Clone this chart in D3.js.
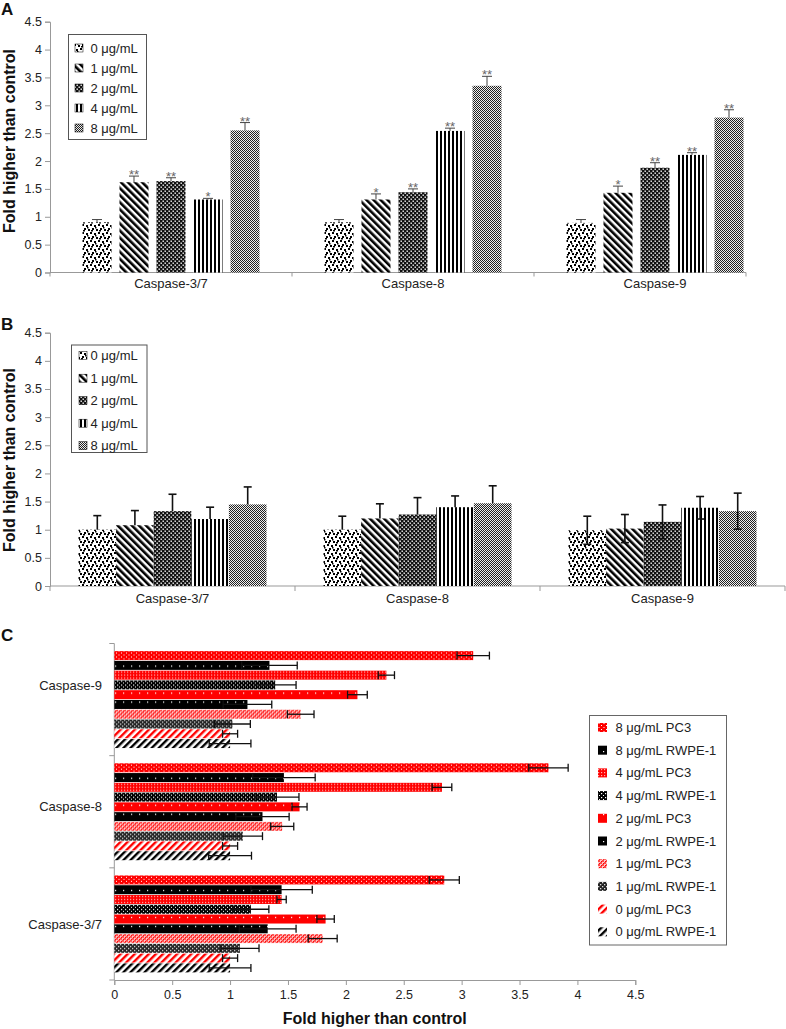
<!DOCTYPE html>
<html><head><meta charset="utf-8">
<script src="https://cdn.jsdelivr.net/npm/d3@7"></script>
<style>
body{margin:0;background:#fff}
text{font-family:Arial,"Liberation Sans",sans-serif}
</style>
</head><body>
<svg id="chart" width="786" height="1029"></svg>
<script>
// ---------- DATA ----------
const categories = ["Caspase-3/7", "Caspase-8", "Caspase-9"];
const doses = ["0 μg/mL", "1 μg/mL", "2 μg/mL", "4 μg/mL", "8 μg/mL"];
const yTicks = [0, 0.5, 1, 1.5, 2, 2.5, 3, 3.5, 4, 4.5];

// Panel A (per category, per dose)
const aValues = [
  [0.90, 1.62, 1.64, 1.31, 2.55],
  [0.90, 1.31, 1.44, 2.54, 3.35],
  [0.89, 1.43, 1.88, 2.11, 2.78]
];
const aErrors = [
  [0.05, 0.11, 0.06, 0.02, 0.14],
  [0.05, 0.10, 0.06, 0.05, 0.17],
  [0.06, 0.12, 0.09, 0.04, 0.14]
];
const aStars = [
  ["", "**", "**", "*", "**"],
  ["", "*", "**", "**", "**"],
  ["", "*", "**", "**", "**"]
];

// Panel B
const bValues = [
  [1.00, 1.08, 1.33, 1.19, 1.45],
  [1.00, 1.20, 1.27, 1.40, 1.47],
  [0.99, 1.02, 1.14, 1.39, 1.33]
];
const bErrors = [
  [0.25, 0.26, 0.30, 0.21, 0.31],
  [0.24, 0.26, 0.30, 0.20, 0.31],
  [0.25, 0.25, 0.30, 0.20, 0.32]
];
const bErrorBothSides = [false, false, true];

// Panel C (categories listed top to bottom, series top to bottom)
const cCategories = ["Caspase-9", "Caspase-8", "Caspase-3/7"];
const cSeries = ["8 μg/mL PC3", "8 μg/mL RWPE-1", "4 μg/mL PC3", "4 μg/mL RWPE-1",
  "2 μg/mL PC3", "2 μg/mL RWPE-1", "1 μg/mL PC3", "1 μg/mL RWPE-1",
  "0 μg/mL PC3", "0 μg/mL RWPE-1"];
const cValues = [
  [3.10, 1.34, 2.35, 1.39, 2.10, 1.15, 1.61, 1.02, 1.00, 1.00],
  [3.75, 1.465, 2.83, 1.405, 1.60, 1.28, 1.45, 1.11, 1.00, 1.00],
  [2.85, 1.445, 1.445, 1.18, 1.825, 1.325, 1.80, 1.085, 1.00, 1.00]
];
const cErrors = [
  [0.14, 0.24, 0.07, 0.18, 0.085, 0.21, 0.115, 0.155, 0.065, 0.18],
  [0.17, 0.27, 0.085, 0.19, 0.065, 0.23, 0.10, 0.17, 0.065, 0.185],
  [0.13, 0.265, 0.04, 0.155, 0.075, 0.245, 0.125, 0.165, 0.065, 0.18]
];

// ---------- SETUP ----------
const svg = d3.select("#chart");
svg.append("rect").attr("width", 786).attr("height", 1029).attr("fill", "#fff");
const defs = svg.append("defs");
const AX = "#999", TXT = "#222";

function addPattern(id, w, h, bg, rects, rot) {
  const p = defs.append("pattern").attr("id", id)
    .attr("patternUnits", "userSpaceOnUse").attr("width", w).attr("height", h);
  if (rot) p.attr("patternTransform", `rotate(${rot})`);
  p.append("rect").attr("width", w).attr("height", h).attr("fill", bg);
  rects.forEach(r => p.append("rect").attr("x", r[0]).attr("y", r[1])
    .attr("width", r[2]).attr("height", r[3]).attr("fill", r[4]));
}
// grayscale patterns (A, B)
addPattern("g0", 8, 8, "#fff", [[0,0,2,2,"#000"],[4,1,2,2,"#000"],[2,4,2,2,"#000"],[6,5,2,2,"#000"],[1,6,2,1.5,"#000"],[5,3,1.5,1.5,"#000"]]);
addPattern("g1", 5, 5, "#fff", [[0,0,2.6,5,"#000"]], -45);
addPattern("g2", 4, 4, "#111", [[0.5,0.5,1.4,1.4,"#fff"],[2.5,2.5,1.4,1.4,"#fff"]]);
addPattern("g3", 4, 4, "#fff", [[0,0,2,4,"#000"]]);
addPattern("g4", 2, 2, "#eee", [[0,0,1,1,"#222"],[1,1,1,1,"#222"]]);
const gPatterns = ["g0", "g1", "g2", "g3", "g4"];

// colour patterns (C)
const RED = "#f00";
addPattern("c0", 5, 4, RED, [[1,1,1,1,"#fff"],[3.5,3,1,1,"#fff"]]);
addPattern("c1", 8, 9, "#000", [[3,4,1.2,1.2,"#fff"]]);
addPattern("c2", 3, 3, RED, [[1,1,1.2,1.2,"#ffb0b0"]]);
addPattern("c3", 4, 4, "#000", [[1,1,1.2,1.2,"#fff"],[3,3,1,1,"#fff"]]);
addPattern("c4", 8, 9, RED, [[3,4,1.2,1.2,"#fff"]]);
addPattern("c5", 8, 9, "#000", [[3,4,1.2,1.2,"#fff"]]);
addPattern("c6", 4, 4, "#ff4a4a", [[0,0,2,2,"#ffc8c8"],[2,2,2,2,"#ffc8c8"],[1,1,1,1,RED],[3,3,1,1,RED]]);
addPattern("c7", 4, 4, "#222", [[0,0,1.3,1.3,"#ddd"],[2,2,1.3,1.3,"#ddd"]]);
addPattern("c8", 5, 5, "#fff", [[0,0,2.4,5,RED]], 45);
addPattern("c9", 5, 5, "#fff", [[0,0,2.4,5,"#000"]], 45);
const cPatterns = ["c0","c1","c2","c3","c4","c5","c6","c7","c8","c9"];

function yAxis(g, scale) {
  g.call(d3.axisLeft(scale).tickValues(yTicks).tickFormat(d => String(d)).tickSize(5).tickPadding(3));
  g.selectAll("path,line").attr("stroke", AX);
  g.selectAll("text").attr("fill", TXT).style("font-size", "12.5px").style("font-family", "Arial");
}
function panelLabel(t, x, y) {
  svg.append("text").attr("x", x).attr("y", y).text(t)
    .attr("font-weight", "bold").attr("font-size", 17).attr("fill", "#111");
}
function yTitle(cx, cy) {
  svg.append("text").attr("transform", `translate(${cx},${cy}) rotate(-90)`)
    .attr("text-anchor", "middle").attr("font-weight", "bold").attr("font-size", 16)
    .attr("fill", "#111").text("Fold higher than control");
}

// ---------- PANEL A ----------
{
  const x0 = d3.scaleBand().domain(categories).range([50, 776]);
  const x1 = d3.scaleBand().domain(doses).range([0, x0.bandwidth()]).paddingInner(0.216).paddingOuter(0.878);
  const y = d3.scaleLinear().domain([0, 4.5]).range([272.5, 21.7]);
  panelLabel("A", 1, 15);
  yAxis(svg.append("g").attr("transform", "translate(50,0)"), y);
  yTitle(14.5, 141);
  // x axis
  const xa = svg.append("g");
  xa.append("line").attr("x1", 50).attr("x2", 746).attr("y1", y(0)).attr("y2", y(0)).attr("stroke", AX);
  [x0(categories[0]), x0(categories[1]), x0(categories[2]), 746].forEach(v =>
    xa.append("line").attr("x1", v).attr("x2", v).attr("y1", y(0)).attr("y2", y(0) + 4).attr("stroke", AX));
  categories.forEach(c => xa.append("text").attr("x", x0(c) + x0.bandwidth() / 2).attr("y", 287.5)
    .attr("text-anchor", "middle").attr("font-size", 13).attr("fill", TXT).text(c));

  categories.forEach((c, ci) => {
    const g = svg.append("g").attr("transform", `translate(${x0(c)},0)`);
    doses.forEach((d, di) => {
      const v = aValues[ci][di], e = aErrors[ci][di];
      const xb = x1(d), w = x1.bandwidth(), xc = xb + w / 2;
      g.append("rect").attr("x", xb).attr("y", y(v)).attr("width", w).attr("height", y(0) - y(v))
        .attr("fill", `url(#${gPatterns[di]})`);
      g.append("line").attr("x1", xc).attr("x2", xc).attr("y1", y(v)).attr("y2", y(v + e)).attr("stroke", "#444").attr("stroke-width", 1);
      g.append("line").attr("x1", xc - 5).attr("x2", xc + 5).attr("y1", y(v + e)).attr("y2", y(v + e)).attr("stroke", "#444").attr("stroke-width", 1);
      if (aStars[ci][di]) g.append("text").attr("x", xc).attr("y", y(v + e) + 3).attr("text-anchor", "middle")
        .attr("font-family", "Liberation Serif, serif").attr("font-size", 13).attr("fill", "#666").text(aStars[ci][di]);
    });
  });
  // legend
  const lg = svg.append("g");
  lg.append("rect").attr("x", 68.5).attr("y", 34.5).attr("width", 78).attr("height", 105)
    .attr("fill", "#fff").attr("stroke", "#555");
  doses.forEach((d, i) => {
    const cy = 48 + i * 20;
    lg.append("rect").attr("x", 75).attr("y", cy - 4).attr("width", 8).attr("height", 8)
      .attr("fill", `url(#${gPatterns[i]})`).attr("stroke", "#000").attr("stroke-width", 0.5);
    lg.append("text").attr("x", 90.5).attr("y", cy + 4.5).attr("font-size", 13).attr("fill", TXT).text(d);
  });
}

// ---------- PANEL B ----------
{
  const x0 = d3.scaleBand().domain(categories).range([50, 785]);
  const x1 = d3.scaleBand().domain(doses).range([0, x0.bandwidth()]).paddingInner(0).paddingOuter(0.758);
  const y = d3.scaleLinear().domain([0, 4.5]).range([586, 332.7]);
  panelLabel("B", 1, 330);
  yAxis(svg.append("g").attr("transform", "translate(50,0)"), y);
  yTitle(14.5, 460);
  const xa = svg.append("g");
  xa.append("line").attr("x1", 50).attr("x2", 785).attr("y1", y(0)).attr("y2", y(0)).attr("stroke", AX);
  categories.concat(["end"]).forEach((c, i) => {
    const v = i < 3 ? x0(c) : 785;
    xa.append("line").attr("x1", v).attr("x2", v).attr("y1", y(0)).attr("y2", y(0) + 5).attr("stroke", AX);
  });
  categories.forEach(c => xa.append("text").attr("x", x0(c) + x0.bandwidth() / 2).attr("y", 603)
    .attr("text-anchor", "middle").attr("font-size", 13).attr("fill", TXT).text(c));

  categories.forEach((c, ci) => {
    const g = svg.append("g").attr("transform", `translate(${x0(c)},0)`);
    doses.forEach((d, di) => {
      const v = bValues[ci][di];
      g.append("rect").attr("x", x1(d)).attr("y", y(v)).attr("width", x1.bandwidth()).attr("height", y(0) - y(v))
        .attr("fill", `url(#${gPatterns[di]})`);
    });
    doses.forEach((d, di) => {
      const v = bValues[ci][di], e = bErrors[ci][di];
      const xc = x1(d) + x1.bandwidth() / 2;
      const lo = bErrorBothSides[ci] ? v - e : v;
      g.append("line").attr("x1", xc).attr("x2", xc).attr("y1", y(lo)).attr("y2", y(v + e)).attr("stroke", "#111").attr("stroke-width", 1.6);
      g.append("line").attr("x1", xc - 4).attr("x2", xc + 4).attr("y1", y(v + e)).attr("y2", y(v + e)).attr("stroke", "#111").attr("stroke-width", 1.6);
      if (bErrorBothSides[ci]) g.append("line").attr("x1", xc - 4).attr("x2", xc + 4).attr("y1", y(lo)).attr("y2", y(lo)).attr("stroke", "#111").attr("stroke-width", 1.6);
    });
  });
  const lg = svg.append("g");
  lg.append("rect").attr("x", 71.5).attr("y", 345).attr("width", 75.5).attr("height", 107.5)
    .attr("fill", "#fff").attr("stroke", "#555");
  doses.forEach((d, i) => {
    const cy = 355.7 + i * 22.5;
    lg.append("rect").attr("x", 79).attr("y", cy - 4).attr("width", 8).attr("height", 8)
      .attr("fill", `url(#${gPatterns[i]})`).attr("stroke", "#000").attr("stroke-width", 0.5);
    lg.append("text").attr("x", 90.5).attr("y", cy + 4.5).attr("font-size", 13).attr("fill", TXT).text(d);
  });
}

// ---------- PANEL C ----------
{
  const y0 = d3.scaleBand().domain(cCategories).range([643.5, 980]);
  const y1 = d3.scaleBand().domain(cSeries).range([0, y0.bandwidth()]).paddingInner(0.08).paddingOuter(0.78);
  const x = d3.scaleLinear().domain([0, 4.5]).range([114.3, 635.3]);
  panelLabel("C", 1, 641);
  // x axis
  const xg = svg.append("g").attr("transform", "translate(0,980)");
  xg.call(d3.axisBottom(x).tickValues(yTicks).tickFormat(d => String(d)).tickSize(5).tickPadding(5));
  xg.selectAll("path,line").attr("stroke", AX);
  xg.selectAll("text").attr("fill", TXT).style("font-size", "12.5px").style("font-family", "Arial");
  svg.append("text").attr("x", (x.range()[0] + x.range()[1]) / 2).attr("y", 1024).attr("text-anchor", "middle")
    .attr("font-weight", "bold").attr("font-size", 16).attr("fill", "#111").text("Fold higher than control");
  // y axis
  const ya = svg.append("g");
  ya.append("line").attr("x1", x(0)).attr("x2", x(0)).attr("y1", 643.5).attr("y2", 980).attr("stroke", AX);
  cCategories.concat(["end"]).forEach((c, i) => {
    const v = i < 3 ? y0(c) : 980;
    ya.append("line").attr("x1", x(0) - 5).attr("x2", x(0)).attr("y1", v).attr("y2", v).attr("stroke", AX);
  });
  const labelNudge = [-14, -5, 1];
  cCategories.forEach((c, i) => ya.append("text").attr("x", 102).attr("y", y0(c) + y0.bandwidth() / 2 + 4.5 + labelNudge[i])
    .attr("text-anchor", "end").attr("font-size", 13).attr("fill", TXT).text(c));

  cCategories.forEach((c, ci) => {
    const g = svg.append("g").attr("transform", `translate(0,${y0(c)})`);
    cSeries.forEach((s, si) => {
      const v = cValues[ci][si];
      g.append("rect").attr("x", x(0)).attr("y", y1(s)).attr("width", x(v) - x(0)).attr("height", y1.bandwidth())
        .attr("fill", `url(#${cPatterns[si]})`);
    });
    cSeries.forEach((s, si) => {
      const v = cValues[ci][si], e = cErrors[ci][si];
      const yc = y1(s) + y1.bandwidth() / 2;
      g.append("line").attr("x1", x(v - e)).attr("x2", x(v + e)).attr("y1", yc).attr("y2", yc).attr("stroke", "#111").attr("stroke-width", 1.3);
      [v - e, v + e].forEach(t => g.append("line").attr("x1", x(t)).attr("x2", x(t)).attr("y1", yc - 4).attr("y2", yc + 4)
        .attr("stroke", "#111").attr("stroke-width", 1.3));
    });
  });
  // legend
  const lg = svg.append("g");
  lg.append("rect").attr("x", 589.5).attr("y", 715.5).attr("width", 137).attr("height", 229.5)
    .attr("fill", "#fff").attr("stroke", "#666");
  cSeries.forEach((s, i) => {
    const cy = 727.5 + i * 22.7;
    lg.append("rect").attr("x", 598).attr("y", cy - 4.5).attr("width", 9).attr("height", 9)
      .attr("fill", `url(#${cPatterns[i]})`);
    lg.append("text").attr("x", 615.5).attr("y", cy + 4.5).attr("font-size", 13).attr("fill", TXT).text(s);
  });
}
</script>
</body></html>
